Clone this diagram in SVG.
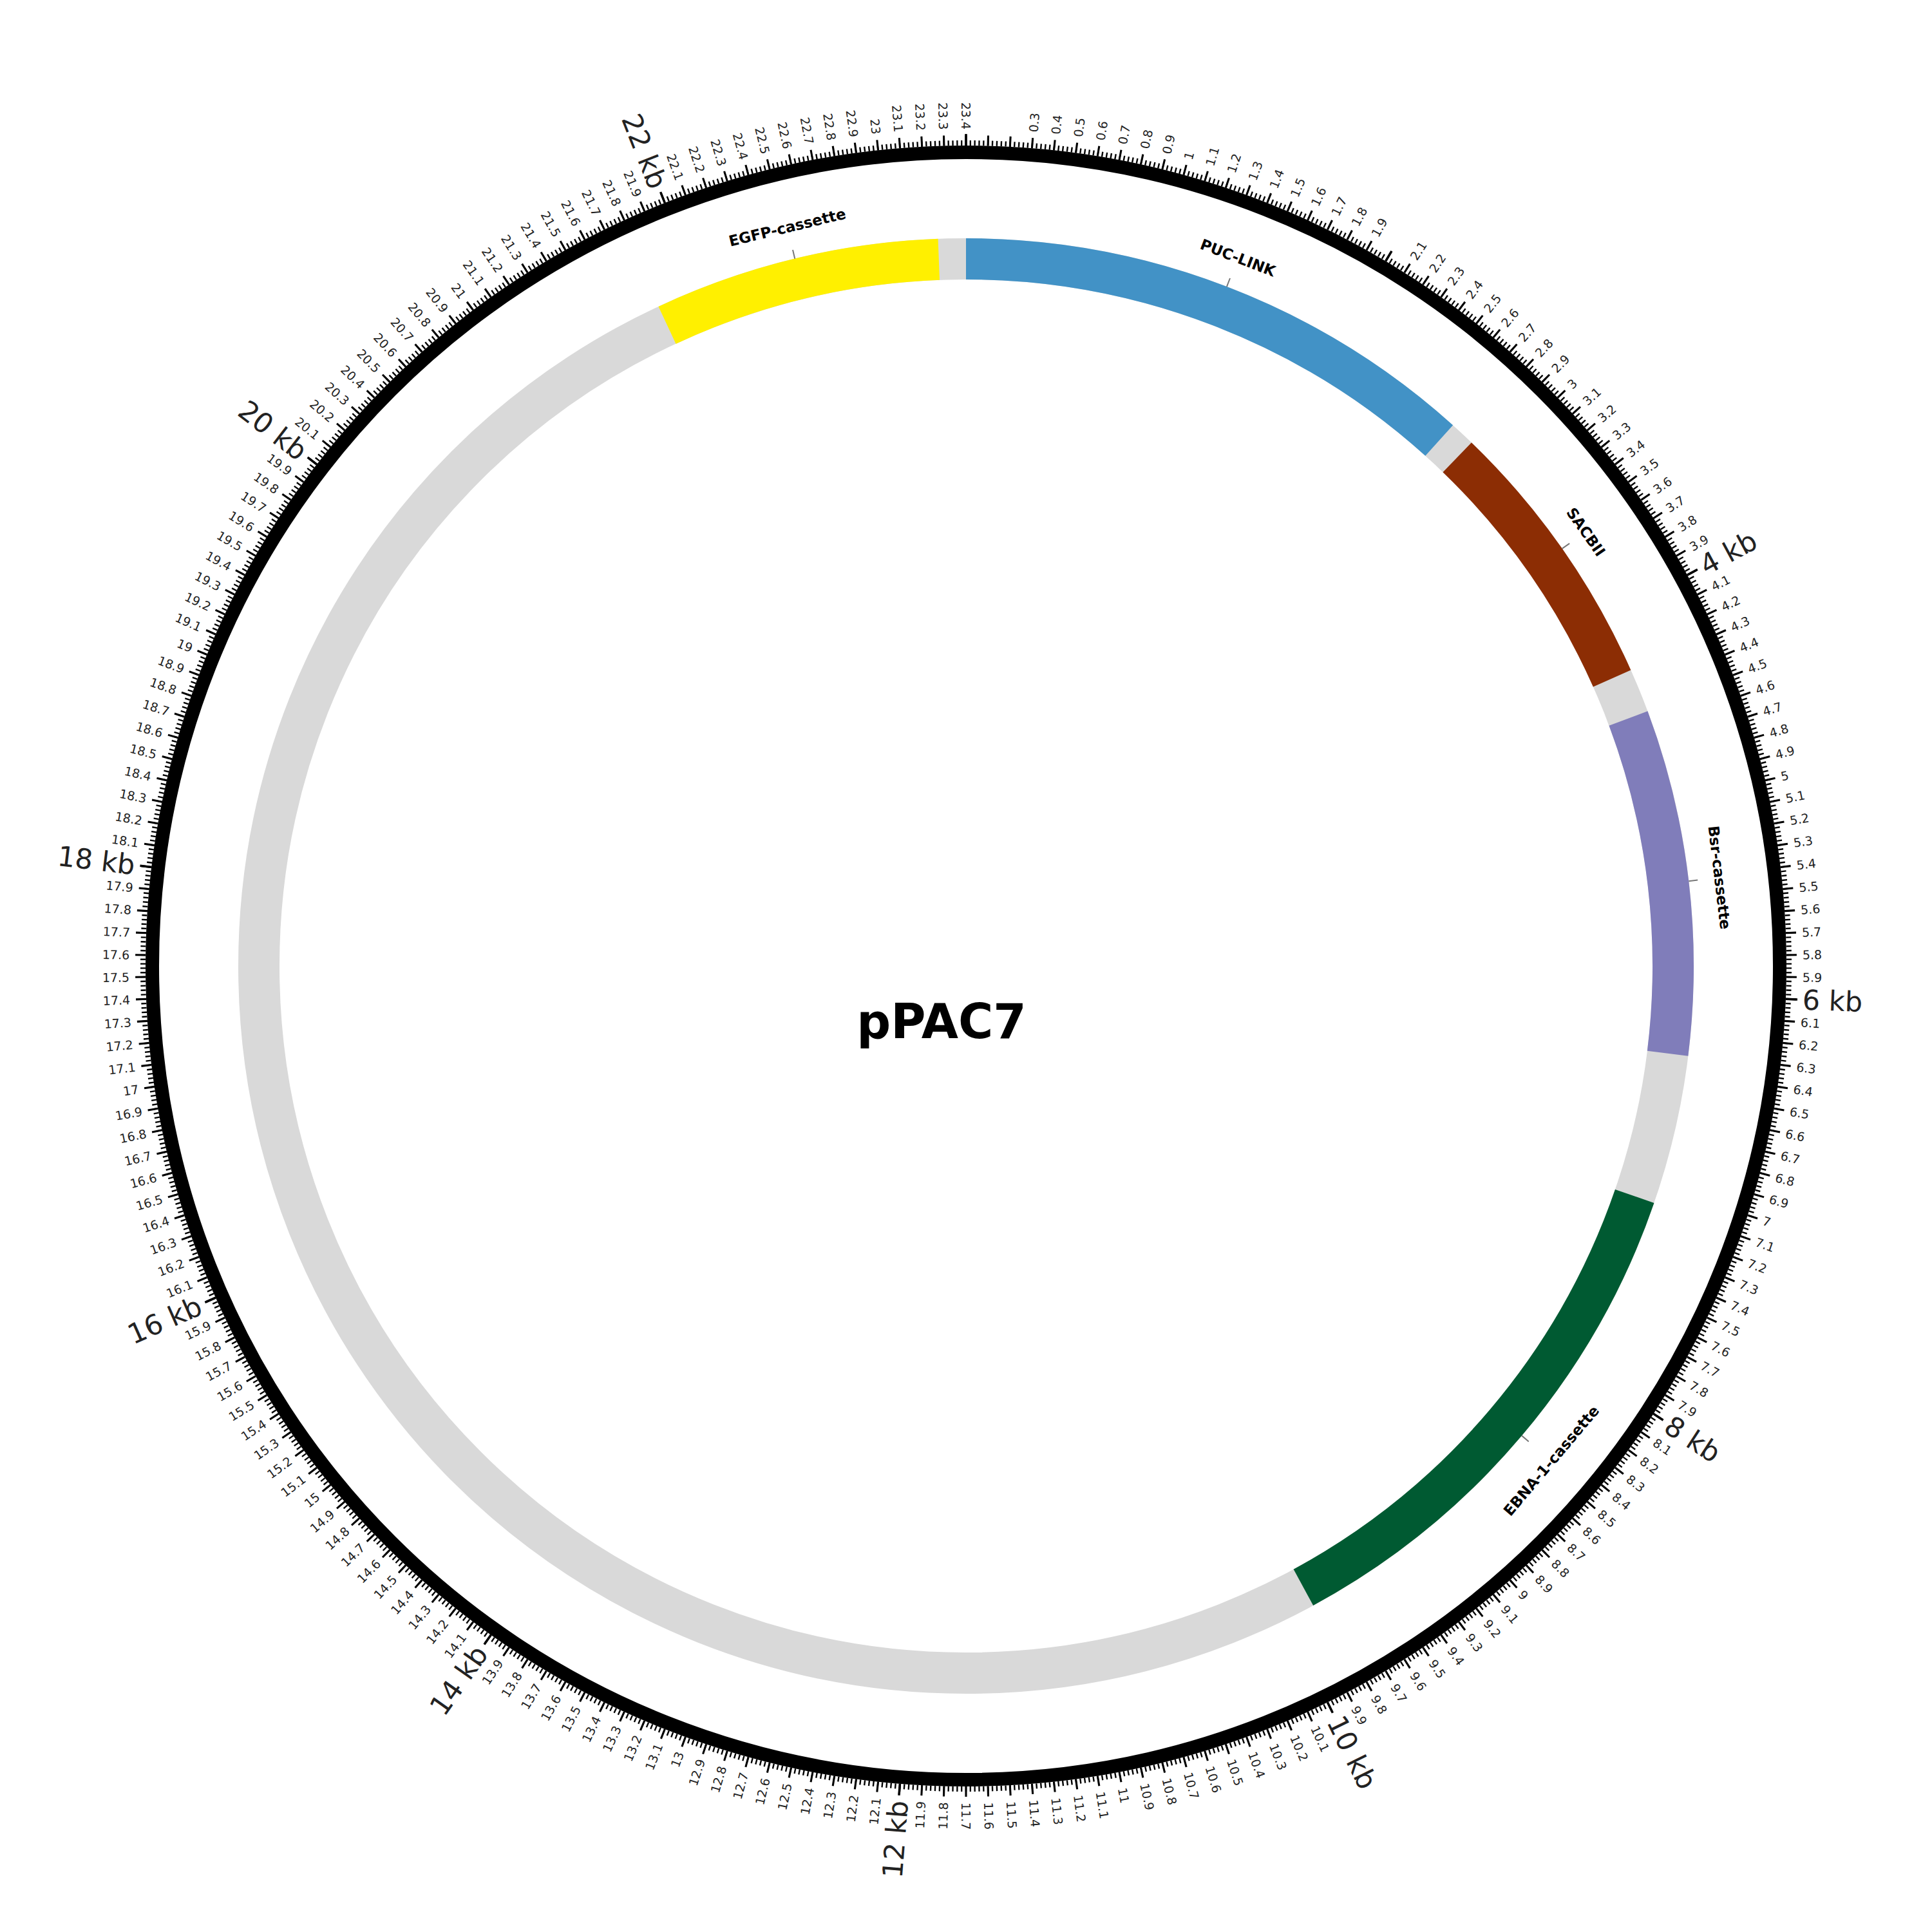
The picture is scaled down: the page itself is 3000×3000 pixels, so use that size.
<svg xmlns="http://www.w3.org/2000/svg" width="3000" height="3000" viewBox="0 0 3000 3000">
<style>
.s{font-family:"DejaVu Sans",sans-serif;font-size:19px;fill:#222;dominant-baseline:central}
.l{text-anchor:end}
.b{font-size:43px}
.f{font-family:"DejaVu Sans",sans-serif;font-weight:bold;font-size:23px;fill:#000;text-anchor:middle;dominant-baseline:central}
.arc{fill:none;stroke-width:64}
.lt{stroke:#777;stroke-width:2}
</style>
<rect width="3000" height="3000" fill="#fff"/>
<g id="backbone">
<circle cx="1500" cy="1500" r="1098" fill="none" stroke="#d9d9d9" stroke-width="64"/>
</g>
<g id="features">
<path id="PUC-LINK" class="arc" stroke="#4292c6" d="M1500 402 A1098 1098 0 0 1 2234.7 684"/>
<path id="SACBII" class="arc" stroke="#8c2d04" d="M2262.7 710.2 A1098 1098 0 0 1 2503.1 1053.4"/>
<path id="Bsr-cassette" class="arc" stroke="#807dba" d="M2528.5 1115.5 A1098 1098 0 0 1 2589.6 1635.7"/>
<path id="EBNA-1-cassette" class="arc" stroke="#005a32" d="M2538.2 1857.5 A1098 1098 0 0 1 2023.9 2464.9"/>
<path id="EGFP-cassette" class="arc" stroke="#fff000" d="M1036 504.9 A1098 1098 0 0 1 1457.8 402.8"/>
</g>
<g id="feature-labels" transform="translate(1500,1500)">
<line class="lt" x1="0" y1="-1130" x2="0" y2="-1144" transform="rotate(21)"/>
<line class="lt" x1="0" y1="-1130" x2="0" y2="-1144" transform="rotate(55)"/>
<line class="lt" x1="0" y1="-1130" x2="0" y2="-1144" transform="rotate(83.3)"/>
<line class="lt" x1="0" y1="-1130" x2="0" y2="-1144" transform="rotate(130.2)"/>
<line class="lt" x1="0" y1="-1130" x2="0" y2="-1144" transform="rotate(346.4)"/>
<text class="f" transform="rotate(21)" x="0" y="-1178">PUC-LINK</text>
<text class="f" transform="rotate(55)" x="0" y="-1175">SACBII</text>
<text class="f" transform="rotate(83.3)" x="0" y="-1178">Bsr-cassette</text>
<text class="f" transform="rotate(-49.8)" x="0" y="1190">EBNA-1-cassette</text>
<text class="f" transform="rotate(346.4)" x="0" y="-1180">EGFP-cassette</text>
</g>
<g id="scale" transform="translate(1500,1500) rotate(-90)">
<circle cx="0" cy="0" r="1263.5" fill="none" stroke="#000" stroke-width="21"/>
<circle cx="0" cy="0" r="1278" fill="none" stroke="#000" stroke-width="8" pathLength="1170" stroke-dasharray="0.35 0.65" stroke-dashoffset="0.175"/>
<circle cx="0" cy="0" r="1282" fill="none" stroke="#000" stroke-width="16" pathLength="234" stroke-dasharray="0.09 0.91" stroke-dashoffset="0.045"/>
<g stroke="#000" stroke-width="3.5">
<line x1="1274" x2="1292" transform="rotate(0)"/>
<line x1="1274" x2="1292" transform="rotate(30.77)"/>
<line x1="1274" x2="1292" transform="rotate(61.54)"/>
<line x1="1274" x2="1292" transform="rotate(92.31)"/>
<line x1="1274" x2="1292" transform="rotate(123.08)"/>
<line x1="1274" x2="1292" transform="rotate(153.85)"/>
<line x1="1274" x2="1292" transform="rotate(184.62)"/>
<line x1="1274" x2="1292" transform="rotate(215.38)"/>
<line x1="1274" x2="1292" transform="rotate(246.15)"/>
<line x1="1274" x2="1292" transform="rotate(276.92)"/>
<line x1="1274" x2="1292" transform="rotate(307.69)"/>
<line x1="1274" x2="1292" transform="rotate(338.46)"/>
</g>
<g id="right-labels">
<text class="s" x="1299" transform="rotate(4.62)">0.3</text>
<text class="s" x="1299" transform="rotate(6.15)">0.4</text>
<text class="s" x="1299" transform="rotate(7.69)">0.5</text>
<text class="s" x="1299" transform="rotate(9.23)">0.6</text>
<text class="s" x="1299" transform="rotate(10.77)">0.7</text>
<text class="s" x="1299" transform="rotate(12.31)">0.8</text>
<text class="s" x="1299" transform="rotate(13.85)">0.9</text>
<text class="s" x="1299" transform="rotate(15.38)">1</text>
<text class="s" x="1299" transform="rotate(16.92)">1.1</text>
<text class="s" x="1299" transform="rotate(18.46)">1.2</text>
<text class="s" x="1299" transform="rotate(20)">1.3</text>
<text class="s" x="1299" transform="rotate(21.54)">1.4</text>
<text class="s" x="1299" transform="rotate(23.08)">1.5</text>
<text class="s" x="1299" transform="rotate(24.62)">1.6</text>
<text class="s" x="1299" transform="rotate(26.15)">1.7</text>
<text class="s" x="1299" transform="rotate(27.69)">1.8</text>
<text class="s" x="1299" transform="rotate(29.23)">1.9</text>
<text class="s" x="1299" transform="rotate(32.31)">2.1</text>
<text class="s" x="1299" transform="rotate(33.85)">2.2</text>
<text class="s" x="1299" transform="rotate(35.38)">2.3</text>
<text class="s" x="1299" transform="rotate(36.92)">2.4</text>
<text class="s" x="1299" transform="rotate(38.46)">2.5</text>
<text class="s" x="1299" transform="rotate(40)">2.6</text>
<text class="s" x="1299" transform="rotate(41.54)">2.7</text>
<text class="s" x="1299" transform="rotate(43.08)">2.8</text>
<text class="s" x="1299" transform="rotate(44.62)">2.9</text>
<text class="s" x="1299" transform="rotate(46.15)">3</text>
<text class="s" x="1299" transform="rotate(47.69)">3.1</text>
<text class="s" x="1299" transform="rotate(49.23)">3.2</text>
<text class="s" x="1299" transform="rotate(50.77)">3.3</text>
<text class="s" x="1299" transform="rotate(52.31)">3.4</text>
<text class="s" x="1299" transform="rotate(53.85)">3.5</text>
<text class="s" x="1299" transform="rotate(55.38)">3.6</text>
<text class="s" x="1299" transform="rotate(56.92)">3.7</text>
<text class="s" x="1299" transform="rotate(58.46)">3.8</text>
<text class="s" x="1299" transform="rotate(60)">3.9</text>
<text class="s b" x="1300" transform="rotate(61.54)">4 kb</text>
<text class="s" x="1299" transform="rotate(63.08)">4.1</text>
<text class="s" x="1299" transform="rotate(64.62)">4.2</text>
<text class="s" x="1299" transform="rotate(66.15)">4.3</text>
<text class="s" x="1299" transform="rotate(67.69)">4.4</text>
<text class="s" x="1299" transform="rotate(69.23)">4.5</text>
<text class="s" x="1299" transform="rotate(70.77)">4.6</text>
<text class="s" x="1299" transform="rotate(72.31)">4.7</text>
<text class="s" x="1299" transform="rotate(73.85)">4.8</text>
<text class="s" x="1299" transform="rotate(75.38)">4.9</text>
<text class="s" x="1299" transform="rotate(76.92)">5</text>
<text class="s" x="1299" transform="rotate(78.46)">5.1</text>
<text class="s" x="1299" transform="rotate(80)">5.2</text>
<text class="s" x="1299" transform="rotate(81.54)">5.3</text>
<text class="s" x="1299" transform="rotate(83.08)">5.4</text>
<text class="s" x="1299" transform="rotate(84.62)">5.5</text>
<text class="s" x="1299" transform="rotate(86.15)">5.6</text>
<text class="s" x="1299" transform="rotate(87.69)">5.7</text>
<text class="s" x="1299" transform="rotate(89.23)">5.8</text>
<text class="s" x="1299" transform="rotate(90.77)">5.9</text>
<text class="s b" x="1300" transform="rotate(92.31)">6 kb</text>
<text class="s" x="1299" transform="rotate(93.85)">6.1</text>
<text class="s" x="1299" transform="rotate(95.38)">6.2</text>
<text class="s" x="1299" transform="rotate(96.92)">6.3</text>
<text class="s" x="1299" transform="rotate(98.46)">6.4</text>
<text class="s" x="1299" transform="rotate(100)">6.5</text>
<text class="s" x="1299" transform="rotate(101.54)">6.6</text>
<text class="s" x="1299" transform="rotate(103.08)">6.7</text>
<text class="s" x="1299" transform="rotate(104.62)">6.8</text>
<text class="s" x="1299" transform="rotate(106.15)">6.9</text>
<text class="s" x="1299" transform="rotate(107.69)">7</text>
<text class="s" x="1299" transform="rotate(109.23)">7.1</text>
<text class="s" x="1299" transform="rotate(110.77)">7.2</text>
<text class="s" x="1299" transform="rotate(112.31)">7.3</text>
<text class="s" x="1299" transform="rotate(113.85)">7.4</text>
<text class="s" x="1299" transform="rotate(115.38)">7.5</text>
<text class="s" x="1299" transform="rotate(116.92)">7.6</text>
<text class="s" x="1299" transform="rotate(118.46)">7.7</text>
<text class="s" x="1299" transform="rotate(120)">7.8</text>
<text class="s" x="1299" transform="rotate(121.54)">7.9</text>
<text class="s b" x="1300" transform="rotate(123.08)">8 kb</text>
<text class="s" x="1299" transform="rotate(124.62)">8.1</text>
<text class="s" x="1299" transform="rotate(126.15)">8.2</text>
<text class="s" x="1299" transform="rotate(127.69)">8.3</text>
<text class="s" x="1299" transform="rotate(129.23)">8.4</text>
<text class="s" x="1299" transform="rotate(130.77)">8.5</text>
<text class="s" x="1299" transform="rotate(132.31)">8.6</text>
<text class="s" x="1299" transform="rotate(133.85)">8.7</text>
<text class="s" x="1299" transform="rotate(135.38)">8.8</text>
<text class="s" x="1299" transform="rotate(136.92)">8.9</text>
<text class="s" x="1299" transform="rotate(138.46)">9</text>
<text class="s" x="1299" transform="rotate(140)">9.1</text>
<text class="s" x="1299" transform="rotate(141.54)">9.2</text>
<text class="s" x="1299" transform="rotate(143.08)">9.3</text>
<text class="s" x="1299" transform="rotate(144.62)">9.4</text>
<text class="s" x="1299" transform="rotate(146.15)">9.5</text>
<text class="s" x="1299" transform="rotate(147.69)">9.6</text>
<text class="s" x="1299" transform="rotate(149.23)">9.7</text>
<text class="s" x="1299" transform="rotate(150.77)">9.8</text>
<text class="s" x="1299" transform="rotate(152.31)">9.9</text>
<text class="s b" x="1300" transform="rotate(153.85)">10 kb</text>
<text class="s" x="1299" transform="rotate(155.38)">10.1</text>
<text class="s" x="1299" transform="rotate(156.92)">10.2</text>
<text class="s" x="1299" transform="rotate(158.46)">10.3</text>
<text class="s" x="1299" transform="rotate(160)">10.4</text>
<text class="s" x="1299" transform="rotate(161.54)">10.5</text>
<text class="s" x="1299" transform="rotate(163.08)">10.6</text>
<text class="s" x="1299" transform="rotate(164.62)">10.7</text>
<text class="s" x="1299" transform="rotate(166.15)">10.8</text>
<text class="s" x="1299" transform="rotate(167.69)">10.9</text>
<text class="s" x="1299" transform="rotate(169.23)">11</text>
<text class="s" x="1299" transform="rotate(170.77)">11.1</text>
<text class="s" x="1299" transform="rotate(172.31)">11.2</text>
<text class="s" x="1299" transform="rotate(173.85)">11.3</text>
<text class="s" x="1299" transform="rotate(175.38)">11.4</text>
<text class="s" x="1299" transform="rotate(176.92)">11.5</text>
<text class="s" x="1299" transform="rotate(178.46)">11.6</text>
<text class="s" x="1299" transform="rotate(180)">11.7</text>
</g>
<g id="left-labels">
<text class="s l" x="-1299" transform="rotate(1.54)">11.8</text>
<text class="s l" x="-1299" transform="rotate(3.08)">11.9</text>
<text class="s l b" x="-1300" transform="rotate(4.62)">12 kb</text>
<text class="s l" x="-1299" transform="rotate(6.15)">12.1</text>
<text class="s l" x="-1299" transform="rotate(7.69)">12.2</text>
<text class="s l" x="-1299" transform="rotate(9.23)">12.3</text>
<text class="s l" x="-1299" transform="rotate(10.77)">12.4</text>
<text class="s l" x="-1299" transform="rotate(12.31)">12.5</text>
<text class="s l" x="-1299" transform="rotate(13.85)">12.6</text>
<text class="s l" x="-1299" transform="rotate(15.38)">12.7</text>
<text class="s l" x="-1299" transform="rotate(16.92)">12.8</text>
<text class="s l" x="-1299" transform="rotate(18.46)">12.9</text>
<text class="s l" x="-1299" transform="rotate(20)">13</text>
<text class="s l" x="-1299" transform="rotate(21.54)">13.1</text>
<text class="s l" x="-1299" transform="rotate(23.08)">13.2</text>
<text class="s l" x="-1299" transform="rotate(24.62)">13.3</text>
<text class="s l" x="-1299" transform="rotate(26.15)">13.4</text>
<text class="s l" x="-1299" transform="rotate(27.69)">13.5</text>
<text class="s l" x="-1299" transform="rotate(29.23)">13.6</text>
<text class="s l" x="-1299" transform="rotate(30.77)">13.7</text>
<text class="s l" x="-1299" transform="rotate(32.31)">13.8</text>
<text class="s l" x="-1299" transform="rotate(33.85)">13.9</text>
<text class="s l b" x="-1300" transform="rotate(35.38)">14 kb</text>
<text class="s l" x="-1299" transform="rotate(36.92)">14.1</text>
<text class="s l" x="-1299" transform="rotate(38.46)">14.2</text>
<text class="s l" x="-1299" transform="rotate(40)">14.3</text>
<text class="s l" x="-1299" transform="rotate(41.54)">14.4</text>
<text class="s l" x="-1299" transform="rotate(43.08)">14.5</text>
<text class="s l" x="-1299" transform="rotate(44.62)">14.6</text>
<text class="s l" x="-1299" transform="rotate(46.15)">14.7</text>
<text class="s l" x="-1299" transform="rotate(47.69)">14.8</text>
<text class="s l" x="-1299" transform="rotate(49.23)">14.9</text>
<text class="s l" x="-1299" transform="rotate(50.77)">15</text>
<text class="s l" x="-1299" transform="rotate(52.31)">15.1</text>
<text class="s l" x="-1299" transform="rotate(53.85)">15.2</text>
<text class="s l" x="-1299" transform="rotate(55.38)">15.3</text>
<text class="s l" x="-1299" transform="rotate(56.92)">15.4</text>
<text class="s l" x="-1299" transform="rotate(58.46)">15.5</text>
<text class="s l" x="-1299" transform="rotate(60)">15.6</text>
<text class="s l" x="-1299" transform="rotate(61.54)">15.7</text>
<text class="s l" x="-1299" transform="rotate(63.08)">15.8</text>
<text class="s l" x="-1299" transform="rotate(64.62)">15.9</text>
<text class="s l b" x="-1300" transform="rotate(66.15)">16 kb</text>
<text class="s l" x="-1299" transform="rotate(67.69)">16.1</text>
<text class="s l" x="-1299" transform="rotate(69.23)">16.2</text>
<text class="s l" x="-1299" transform="rotate(70.77)">16.3</text>
<text class="s l" x="-1299" transform="rotate(72.31)">16.4</text>
<text class="s l" x="-1299" transform="rotate(73.85)">16.5</text>
<text class="s l" x="-1299" transform="rotate(75.38)">16.6</text>
<text class="s l" x="-1299" transform="rotate(76.92)">16.7</text>
<text class="s l" x="-1299" transform="rotate(78.46)">16.8</text>
<text class="s l" x="-1299" transform="rotate(80)">16.9</text>
<text class="s l" x="-1299" transform="rotate(81.54)">17</text>
<text class="s l" x="-1299" transform="rotate(83.08)">17.1</text>
<text class="s l" x="-1299" transform="rotate(84.62)">17.2</text>
<text class="s l" x="-1299" transform="rotate(86.15)">17.3</text>
<text class="s l" x="-1299" transform="rotate(87.69)">17.4</text>
<text class="s l" x="-1299" transform="rotate(89.23)">17.5</text>
<text class="s l" x="-1299" transform="rotate(90.77)">17.6</text>
<text class="s l" x="-1299" transform="rotate(92.31)">17.7</text>
<text class="s l" x="-1299" transform="rotate(93.85)">17.8</text>
<text class="s l" x="-1299" transform="rotate(95.38)">17.9</text>
<text class="s l b" x="-1300" transform="rotate(96.92)">18 kb</text>
<text class="s l" x="-1299" transform="rotate(98.46)">18.1</text>
<text class="s l" x="-1299" transform="rotate(100)">18.2</text>
<text class="s l" x="-1299" transform="rotate(101.54)">18.3</text>
<text class="s l" x="-1299" transform="rotate(103.08)">18.4</text>
<text class="s l" x="-1299" transform="rotate(104.62)">18.5</text>
<text class="s l" x="-1299" transform="rotate(106.15)">18.6</text>
<text class="s l" x="-1299" transform="rotate(107.69)">18.7</text>
<text class="s l" x="-1299" transform="rotate(109.23)">18.8</text>
<text class="s l" x="-1299" transform="rotate(110.77)">18.9</text>
<text class="s l" x="-1299" transform="rotate(112.31)">19</text>
<text class="s l" x="-1299" transform="rotate(113.85)">19.1</text>
<text class="s l" x="-1299" transform="rotate(115.38)">19.2</text>
<text class="s l" x="-1299" transform="rotate(116.92)">19.3</text>
<text class="s l" x="-1299" transform="rotate(118.46)">19.4</text>
<text class="s l" x="-1299" transform="rotate(120)">19.5</text>
<text class="s l" x="-1299" transform="rotate(121.54)">19.6</text>
<text class="s l" x="-1299" transform="rotate(123.08)">19.7</text>
<text class="s l" x="-1299" transform="rotate(124.62)">19.8</text>
<text class="s l" x="-1299" transform="rotate(126.15)">19.9</text>
<text class="s l b" x="-1300" transform="rotate(127.69)">20 kb</text>
<text class="s l" x="-1299" transform="rotate(129.23)">20.1</text>
<text class="s l" x="-1299" transform="rotate(130.77)">20.2</text>
<text class="s l" x="-1299" transform="rotate(132.31)">20.3</text>
<text class="s l" x="-1299" transform="rotate(133.85)">20.4</text>
<text class="s l" x="-1299" transform="rotate(135.38)">20.5</text>
<text class="s l" x="-1299" transform="rotate(136.92)">20.6</text>
<text class="s l" x="-1299" transform="rotate(138.46)">20.7</text>
<text class="s l" x="-1299" transform="rotate(140)">20.8</text>
<text class="s l" x="-1299" transform="rotate(141.54)">20.9</text>
<text class="s l" x="-1299" transform="rotate(143.08)">21</text>
<text class="s l" x="-1299" transform="rotate(144.62)">21.1</text>
<text class="s l" x="-1299" transform="rotate(146.15)">21.2</text>
<text class="s l" x="-1299" transform="rotate(147.69)">21.3</text>
<text class="s l" x="-1299" transform="rotate(149.23)">21.4</text>
<text class="s l" x="-1299" transform="rotate(150.77)">21.5</text>
<text class="s l" x="-1299" transform="rotate(152.31)">21.6</text>
<text class="s l" x="-1299" transform="rotate(153.85)">21.7</text>
<text class="s l" x="-1299" transform="rotate(155.38)">21.8</text>
<text class="s l" x="-1299" transform="rotate(156.92)">21.9</text>
<text class="s l b" x="-1300" transform="rotate(158.46)">22 kb</text>
<text class="s l" x="-1299" transform="rotate(160)">22.1</text>
<text class="s l" x="-1299" transform="rotate(161.54)">22.2</text>
<text class="s l" x="-1299" transform="rotate(163.08)">22.3</text>
<text class="s l" x="-1299" transform="rotate(164.62)">22.4</text>
<text class="s l" x="-1299" transform="rotate(166.15)">22.5</text>
<text class="s l" x="-1299" transform="rotate(167.69)">22.6</text>
<text class="s l" x="-1299" transform="rotate(169.23)">22.7</text>
<text class="s l" x="-1299" transform="rotate(170.77)">22.8</text>
<text class="s l" x="-1299" transform="rotate(172.31)">22.9</text>
<text class="s l" x="-1299" transform="rotate(173.85)">23</text>
<text class="s l" x="-1299" transform="rotate(175.38)">23.1</text>
<text class="s l" x="-1299" transform="rotate(176.92)">23.2</text>
<text class="s l" x="-1299" transform="rotate(178.46)">23.3</text>
<text class="s l" x="-1299" transform="rotate(180)">23.4</text>
</g>
</g>
<g id="title">
<text x="1462" y="1612" font-family="DejaVu Sans, sans-serif" font-weight="bold" font-size="74" text-anchor="middle" fill="#000">pPAC7</text>
</g>
</svg>
